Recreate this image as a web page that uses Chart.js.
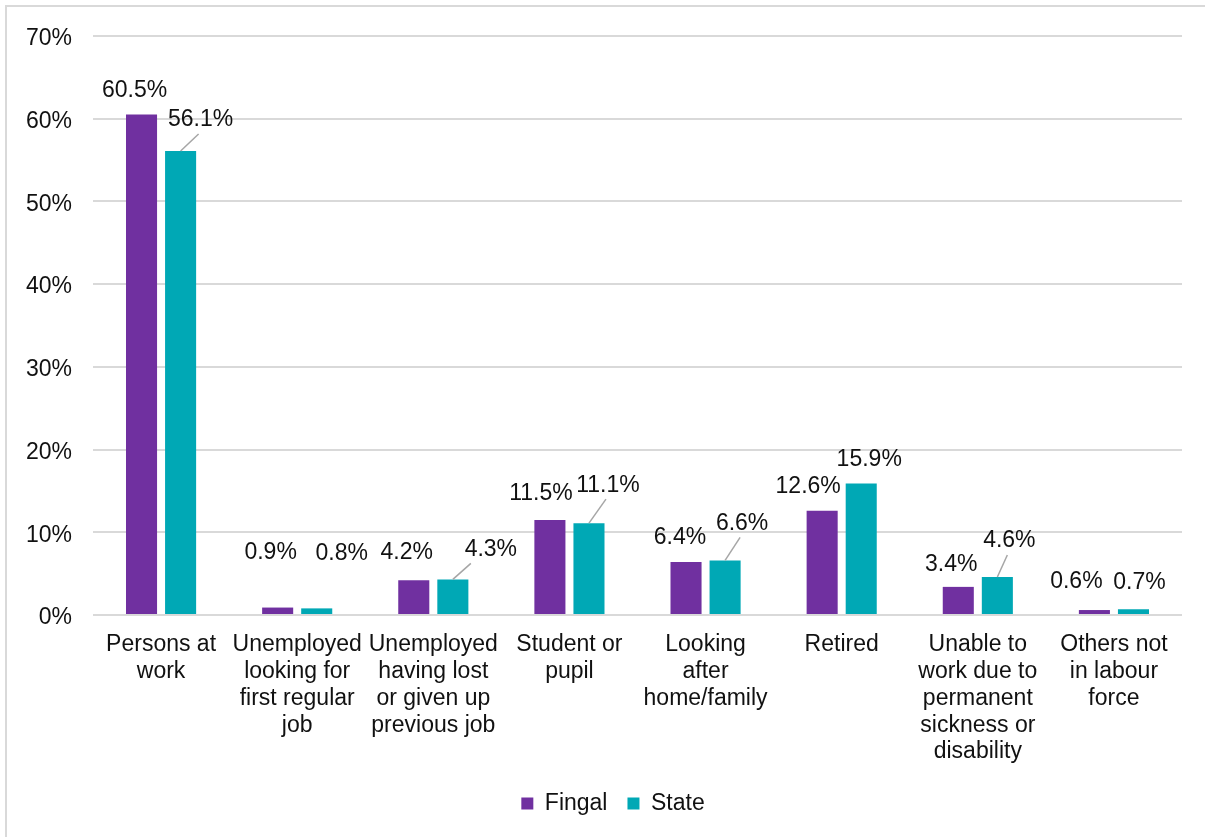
<!DOCTYPE html>
<html>
<head>
<meta charset="utf-8">
<script src="https://cdn.jsdelivr.net/npm/chart.js@4/dist/chart.umd.min.js"></script>
<style>
  body { margin: 0; background: #fff; }
  #wrap { position: relative; width: 1205px; height: 837px; overflow: hidden; }
  #frame {
    position: absolute; left: 5px; top: 5px; width: 1300px; height: 900px;
    border-top: 2px solid #d9d9d9; border-left: 2px solid #d9d9d9;
  }
  #chart { position: absolute; left: 0; top: 0; }
</style>
</head>
<body>
<div id="wrap">
  <div id="frame"></div>
  <canvas id="chart" width="1205" height="837"></canvas>
</div>
<script>
const categories = [
  ["Persons at", "work"],
  ["Unemployed", "looking for", "first regular", "job"],
  ["Unemployed", "having lost", "or given up", "previous job"],
  ["Student or", "pupil"],
  ["Looking", "after", "home/family"],
  ["Retired"],
  ["Unable to", "work due to", "permanent", "sickness or", "disability"],
  ["Others not", "in labour", "force"],
];
const fingal = [60.5, 0.9, 4.2, 11.5, 6.4, 12.6, 3.4, 0.6];
const state = [56.1, 0.8, 4.3, 11.1, 6.6, 15.9, 4.6, 0.7];
const yTicks = [0, 10, 20, 30, 40, 50, 60, 70];

const FONT = '"Liberation Sans", Arial, sans-serif';
const TEXT = "#111";

// label offsets from the top of each bar, and which labels get a leader line
const labelShift = [
  [[-7, -24], [-7, -55], [-7, -28], [-9, -26], [-6, -24], [-14, -24], [-7, -22], [-18, -28]],
  [[20, -31], [25, -55], [38, -30], [19, -38], [17, -37], [8, -24], [12, -36], [6, -27]],
];
const leaderLines = [[], [0, 2, 3, 4, 6]];

const barLabels = {
  id: "barLabels",
  afterDatasetsDraw(chart) {
    const ctx = chart.ctx;
    ctx.save();
    ctx.font = `23px ${FONT}`;
    ctx.textAlign = "center";
    ctx.textBaseline = "middle";
    chart.data.datasets.forEach((ds, di) => {
      chart.getDatasetMeta(di).data.forEach((bar, i) => {
        const [dx, dy] = labelShift[di][i];
        const lx = bar.x + dx;
        const ly = bar.y + dy;
        if (leaderLines[di].includes(i)) {
          ctx.strokeStyle = "#a6a6a6";
          ctx.lineWidth = 1.5;
          ctx.beginPath();
          ctx.moveTo(bar.x, bar.y);
          ctx.lineTo(Math.min(lx - 2, bar.x + 18), ly + 14);
          ctx.stroke();
        }
        ctx.fillStyle = TEXT;
        ctx.fillText(ds.data[i].toFixed(1) + "%", lx, ly);
      });
    });
    ctx.restore();
  },
};

// nudge the legend a little to the right of the canvas centre
const legendShift = {
  id: "legendShift",
  afterLayout(chart) {
    chart.legend.left += 22;
    chart.legend.right += 22;
  },
};

new Chart(document.getElementById("chart"), {
  type: "bar",
  data: {
    labels: categories,
    datasets: [
      { label: "Fingal", data: fingal, backgroundColor: "#7030a0" },
      { label: "State", data: state, backgroundColor: "#00a8b5" },
    ],
  },
  options: {
    responsive: false,
    animation: false,
    datasets: {
      bar: { categoryPercentage: 0.574, barPercentage: 0.795 },
    },
    layout: { padding: { left: 0, right: 23, top: 36, bottom: 12 } },
    scales: {
      x: {
        grid: { display: false },
        border: { display: false },
        ticks: {
          autoSkip: false,
          maxRotation: 0,
          padding: 8,
          color: TEXT,
          font: { family: FONT, size: 23, lineHeight: 1.17 },
        },
        afterFit: (axis) => { axis.height = 157; },
      },
      y: {
        min: 0,
        max: 70,
        afterBuildTicks: (axis) => { axis.ticks = yTicks.map((v) => ({ value: v })); },
        grid: { color: "#d9d9d9", lineWidth: 2, drawTicks: false },
        border: { display: false },
        ticks: {
          padding: 21,
          labelOffset: 3,
          color: TEXT,
          font: { family: FONT, size: 23 },
          callback: (v) => v + "%",
        },
        afterFit: (axis) => { axis.width = 93; },
      },
    },
    plugins: {
      legend: {
        position: "bottom",
        labels: {
          boxWidth: 12,
          boxHeight: 12,
          padding: 20,
          color: TEXT,
          font: { family: FONT, size: 23 },
        },
      },
      tooltip: { enabled: false },
    },
  },
  plugins: [barLabels, legendShift],
});
</script>
</body>
</html>
